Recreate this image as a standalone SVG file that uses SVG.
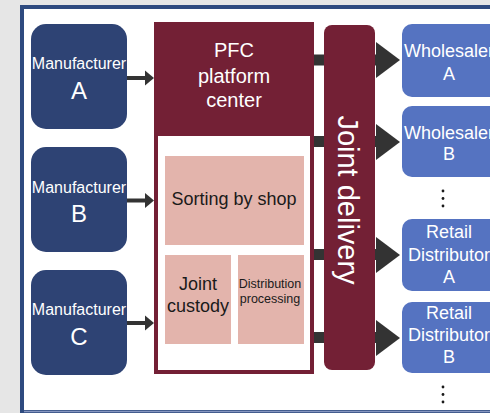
<svg xmlns="http://www.w3.org/2000/svg" width="490" height="413" viewBox="0 0 490 413">
<defs>
<style>
.bg{fill:#e6e6e6}
.mfr rect{fill:#2e4374}
.ret rect{fill:#5573c1}
.wt{fill:#ffffff;font-family:"Liberation Sans",Arial,sans-serif;text-anchor:middle}
.dk{fill:#1a1a1a;font-family:"Liberation Sans",Arial,sans-serif;text-anchor:middle}
.maroon{fill:#732035}
.pink{fill:#e3b4ac}
.conn{fill:#333333}
.dots{fill:#1a1a1a}
</style>
</defs>
<rect class="bg" x="0" y="0" width="490" height="413"/>
<rect x="22" y="7" width="480" height="405" fill="#ffffff" stroke="#2e4a7f" stroke-width="4"/>
<line x1="24" y1="411.5" x2="490" y2="411.5" stroke="#8796c0" stroke-width="1.5"/>

<g id="manufacturer-a" class="mfr">
<rect x="31" y="24" width="96" height="105" rx="15"/>
<text class="wt" x="79" y="69" font-size="16">Manufacturer</text>
<text class="wt" x="79" y="99" font-size="24">A</text>
</g>
<g id="manufacturer-b" class="mfr">
<rect x="31" y="147" width="96" height="105" rx="15"/>
<text class="wt" x="79" y="193" font-size="16">Manufacturer</text>
<text class="wt" x="79" y="222" font-size="24">B</text>
</g>
<g id="manufacturer-c" class="mfr">
<rect x="31" y="270" width="96" height="105" rx="15"/>
<text class="wt" x="79" y="315" font-size="16">Manufacturer</text>
<text class="wt" x="79" y="345" font-size="24">C</text>
</g>

<g id="connectors" class="conn">
<rect x="127" y="76" width="19" height="4"/>
<polygon points="145,70.5 154,78 145,85.5"/>
<rect x="127" y="198.5" width="19" height="4"/>
<polygon points="145,193 154,200.5 145,208"/>
<rect x="127" y="321" width="19" height="4"/>
<polygon points="145,315.5 154,323 145,330.5"/>
<rect x="313" y="54.5" width="64" height="11"/>
<polygon points="376,42 400,60 376,78"/>
<rect x="313" y="136" width="64" height="11"/>
<polygon points="376,124 400,142 376,160"/>
<rect x="313" y="249" width="64" height="11"/>
<polygon points="376,237 400,255 376,273"/>
<rect x="313" y="332" width="64" height="11"/>
<polygon points="376,320 400,338 376,356"/>
</g>

<g id="pfc-platform-center">
<rect class="maroon" x="154" y="22" width="160" height="352"/>
<rect x="158" y="136" width="152" height="234" fill="#ffffff"/>
<text class="wt" x="234" y="57" font-size="20">PFC</text>
<text class="wt" x="234" y="83" font-size="20">platform</text>
<text class="wt" x="234" y="107" font-size="20">center</text>
</g>
<g id="sorting-by-shop">
<rect class="pink" x="165" y="156" width="139" height="89"/>
<text class="dk" x="234" y="205" font-size="18">Sorting by shop</text>
</g>
<g id="joint-custody">
<rect class="pink" x="165" y="255" width="66" height="89"/>
<text class="dk" x="198" y="290" font-size="18">Joint</text>
<text class="dk" x="198" y="312" font-size="18">custody</text>
</g>
<g id="distribution-processing">
<rect class="pink" x="238" y="255" width="66" height="89"/>
<text class="dk" x="270" y="288" font-size="12.5">Distribution</text>
<text class="dk" x="270" y="303" font-size="12.5">processing</text>
</g>

<g id="joint-delivery">
<rect class="maroon" x="324" y="25" width="51" height="345" rx="8"/>
<text class="wt" transform="translate(338,200) rotate(90)" x="0" y="0" font-size="29">Joint delivery</text>
</g>

<g id="wholesaler-a" class="ret">
<rect x="402" y="24" width="98" height="73" rx="10"/>
<text class="wt" x="449" y="57" font-size="18">Wholesaler</text>
<text class="wt" x="449" y="80" font-size="18">A</text>
</g>
<g id="wholesaler-b" class="ret">
<rect x="402" y="106" width="98" height="71" rx="10"/>
<text class="wt" x="449" y="139" font-size="18">Wholesaler</text>
<text class="wt" x="449" y="160" font-size="18">B</text>
</g>
<g id="retail-distributor-a" class="ret">
<rect x="402" y="219" width="98" height="72" rx="10"/>
<text class="wt" x="449" y="238" font-size="18">Retail</text>
<text class="wt" x="449" y="261" font-size="18">Distributor</text>
<text class="wt" x="449" y="283" font-size="18">A</text>
</g>
<g id="retail-distributor-b" class="ret">
<rect x="402" y="302" width="98" height="71" rx="10"/>
<text class="wt" x="449" y="319" font-size="18">Retail</text>
<text class="wt" x="449" y="341" font-size="18">Distributor</text>
<text class="wt" x="449" y="363" font-size="18">B</text>
</g>

<g id="more-wholesalers" class="dots">
<circle cx="443" cy="191" r="1.4"/>
<circle cx="443" cy="198.5" r="1.4"/>
<circle cx="443" cy="206" r="1.4"/>
</g>
<g id="more-retailers" class="dots">
<circle cx="443" cy="387" r="1.4"/>
<circle cx="443" cy="394.5" r="1.4"/>
<circle cx="443" cy="402" r="1.4"/>
</g>
</svg>
